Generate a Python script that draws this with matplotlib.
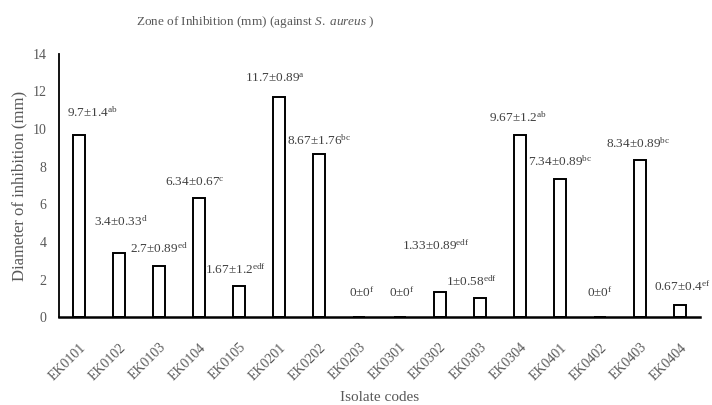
import matplotlib
matplotlib.use("Agg")
import matplotlib.pyplot as plt
import numpy as np

plt.rcParams['font.family'] = ['Liberation Serif', 'DejaVu Serif']
plt.rcParams['mathtext.fontset'] = 'custom'
plt.rcParams['mathtext.rm'] = 'Liberation Serif'
plt.rcParams['mathtext.it'] = 'Liberation Serif:italic'

# data
isolates = ['EK0101', 'EK0102', 'EK0103', 'EK0104', 'EK0105', 'EK0201',
            'EK0202', 'EK0203', 'EK0301', 'EK0302', 'EK0303', 'EK0304',
            'EK0401', 'EK0402', 'EK0403', 'EK0404']
means = [9.7, 3.4, 2.7, 6.34, 1.67, 11.7, 8.67, 0, 0, 1.33, 1.0, 9.67,
         7.34, 0, 8.34, 0.67]
errors = ['1.4', '0.33', '0.89', '0.67', '1.2', '0.89', '1.76', '0', '0',
          '0.89', '0.58', '1.2', '0.89', '0', '0.89', '0.4']
letters = ['ab', 'd', 'ed', 'c', 'edf', 'a', 'bc', 'f', 'f', 'edf', 'edf',
           'ab', 'bc', 'f', 'bc', 'ef']
mean_text = ['9.7', '3.4', '2.7', '6.34', '1.67', '11.7', '8.67', '0', '0',
             '1.33', '1', '9.67', '7.34', '0', '8.34', '0.67']

# where Excel placed each data label (x offset in bar slots, y in mm)
label_dx = [0.33, 0.05, 0.0, -0.1, -0.1, -0.1, 0.0, 0.05, 0.05, -0.1,
            -0.2, -0.05, 0.0, 0.0, -0.05, 0.05]
label_y = [10.86, 5.06, 3.62, 7.13, 2.5, 12.67, 9.37, 1.28, 1.28, 3.78,
           1.9, 10.6, 8.25, 1.28, 9.2, 1.6]

fig = plt.figure(figsize=(7.12, 4.05), dpi=100)
ax = fig.add_axes([0.083, 0.217, 0.9, 0.65])

x = np.arange(len(isolates))
ax.bar(x, means, width=0.3, color='white', edgecolor='black', linewidth=1.4)

for i in range(len(isolates)):
    lbl = mean_text[i] + '±' + errors[i] + '$^{\\rm ' + letters[i] + '}$'
    ax.text(x[i] + label_dx[i], label_y[i], lbl, ha='center', va='center',
            fontsize=9.5, color='#404040')

ax.set_xlim(-0.5, len(isolates) - 0.5)
ax.set_ylim(0, 14)
ax.set_yticks(range(0, 15, 2))
ax.set_xticks(x)
ax.set_xticklabels(isolates, rotation=45, ha='right', rotation_mode='anchor')
ax.tick_params(axis='both', length=0, labelsize=10, colors='#595959')
ax.tick_params(axis='x', pad=17)
ax.tick_params(axis='y', pad=9)

for side in ['top', 'right']:
    ax.spines[side].set_visible(False)
ax.spines['left'].set_linewidth(1.3)
ax.spines['bottom'].set_linewidth(1.8)

ax.set_xlabel('Isolate codes', fontsize=11, color='#595959', labelpad=6)
ax.set_ylabel('Diameter of inhibition (mm)', fontsize=12, color='#595959')
ax.yaxis.set_label_coords(-0.05, 0.5)
fig.suptitle('Zone of Inhibition (mm) (against $\\it{S.\\ aureus}$ )',
             x=0.358, y=0.965, fontsize=9.5, color='#595959')

fig.savefig('out.png', dpi=100)
